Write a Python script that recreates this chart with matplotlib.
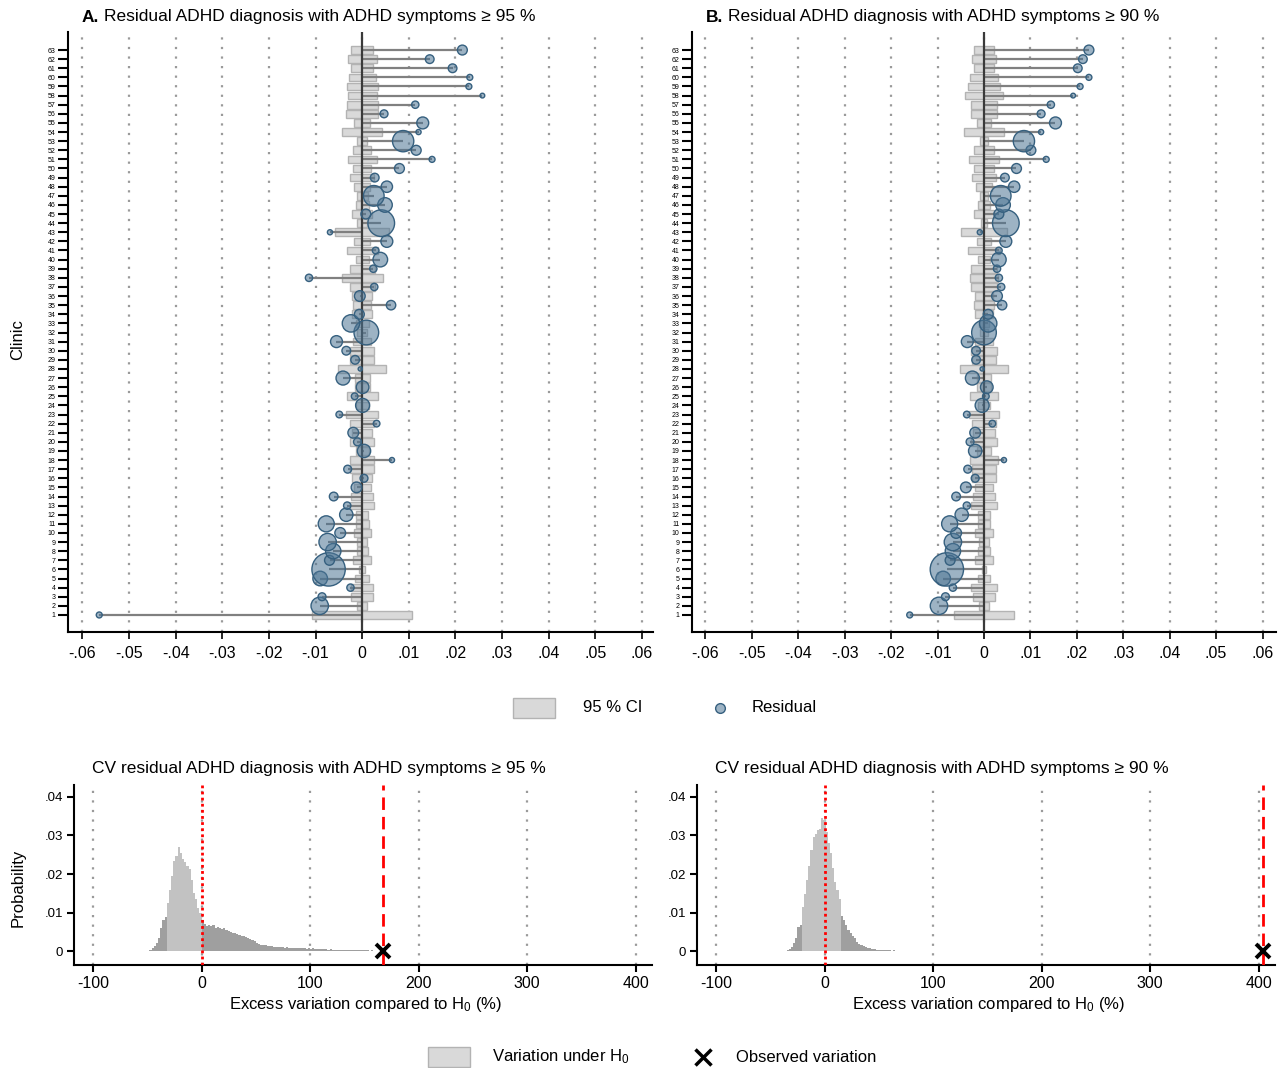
import numpy as np
import matplotlib
matplotlib.use("Agg")
import matplotlib.pyplot as plt
from matplotlib.patches import Rectangle
from matplotlib.lines import Line2D

plt.rcParams['font.family'] = ['Liberation Sans', 'DejaVu Sans']
plt.rcParams['mathtext.fontset'] = 'custom'
plt.rcParams['mathtext.rm'] = 'Liberation Sans'
plt.rcParams['mathtext.it'] = 'Liberation Sans:italic'

# ---------------- DATA ----------------
clinics = list(range(1, 64))

resid_a = [-0.0564, -0.0091, -0.0086, -0.0025, -0.0090, -0.0072, -0.0070, -0.0062, -0.0074, -0.0047,
           -0.0077, -0.0034, -0.0032, -0.0061, -0.0012, 0.0004, -0.0031, 0.0064, 0.0004, -0.0010,
           -0.0019, 0.0031, -0.0049, 0.0001, -0.0016, 0.0001, -0.0041, -0.0004, -0.0015, -0.0034,
           -0.0055, 0.0009, -0.0024, -0.0006, 0.0062, -0.0005, 0.0026, -0.0114, 0.0024, 0.0039,
           0.0029, 0.0053, -0.0069, 0.0041, 0.0008, 0.0049, 0.0025, 0.0053, 0.0027, 0.0080,
           0.0150, 0.0116, 0.0088, 0.0121, 0.0130, 0.0047, 0.0114, 0.0258, 0.0229, 0.0231,
           0.0194, 0.0145, 0.0215]

ci_a = [0.0108, 0.0011, 0.0024, 0.0024, 0.0015, 0.0006, 0.0019, 0.0012, 0.0011, 0.0018,
        0.0014, 0.0013, 0.0026, 0.0023, 0.0018, 0.0022, 0.0026, 0.0025, 0.0014, 0.0026,
        0.0021, 0.0025, 0.0035, 0.0014, 0.0033, 0.0016, 0.0016, 0.0051, 0.0025, 0.0025,
        0.0019, 0.0010, 0.0014, 0.0021, 0.0019, 0.0021, 0.0027, 0.0044, 0.0027, 0.0014,
        0.0033, 0.0017, 0.0058, 0.0010, 0.0021, 0.0014, 0.0012, 0.0017, 0.0026, 0.0020,
        0.0031, 0.0020, 0.0010, 0.0043, 0.0017, 0.0034, 0.0033, 0.0031, 0.0033, 0.0029,
        0.0023, 0.0031, 0.0023]

resid_b = [-0.0160, -0.0097, -0.0083, -0.0067, -0.0088, -0.0080, -0.0073, -0.0067, -0.0067, -0.0060,
           -0.0074, -0.0048, -0.0037, -0.0060, -0.0039, -0.0019, -0.0035, 0.0043, -0.0019, -0.0030,
           -0.0019, 0.0018, -0.0037, -0.0004, 0.0004, 0.0006, -0.0025, -0.0004, -0.0017, -0.0017,
           -0.0036, 0.0000, 0.0009, 0.0009, 0.0039, 0.0028, 0.0037, 0.0032, 0.0028, 0.0032,
           0.0032, 0.0047, -0.0009, 0.0047, 0.0032, 0.0041, 0.0036, 0.0065, 0.0045, 0.0070,
           0.0134, 0.0101, 0.0086, 0.0123, 0.0154, 0.0123, 0.0144, 0.0192, 0.0207, 0.0226,
           0.0202, 0.0213, 0.0226]

ci_b = [0.0064, 0.0011, 0.0024, 0.0028, 0.0014, 0.0005, 0.0020, 0.0012, 0.0011, 0.0019,
        0.0014, 0.0014, 0.0028, 0.0024, 0.0019, 0.0025, 0.0026, 0.0030, 0.0015, 0.0029,
        0.0023, 0.0026, 0.0033, 0.0014, 0.0031, 0.0015, 0.0016, 0.0051, 0.0026, 0.0027,
        0.0019, 0.0008, 0.0011, 0.0020, 0.0021, 0.0019, 0.0027, 0.0031, 0.0027, 0.0014,
        0.0034, 0.0016, 0.0050, 0.0007, 0.0022, 0.0014, 0.0009, 0.0017, 0.0025, 0.0021,
        0.0033, 0.0021, 0.0009, 0.0043, 0.0016, 0.0028, 0.0029, 0.0042, 0.0034, 0.0030,
        0.0022, 0.0026, 0.0022]

clinic_weight = [8, 68, 14, 12, 48, 250, 22, 53, 68, 26,
                 58, 40, 12, 17, 26, 14, 14, 6, 40, 14,
                 26, 10, 10, 44, 10, 36, 44, 4, 17, 17,
                 32, 137, 68, 22, 20, 26, 12, 12, 12, 48,
                 10, 32, 6, 160, 22, 48, 96, 29, 17, 22,
                 8, 22, 102, 6, 32, 14, 12, 5, 8, 8,
                 17, 17, 22]

resid_ticks = [-0.06, -0.05, -0.04, -0.03, -0.02, -0.01, 0, 0.01, 0.02, 0.03, 0.04, 0.05, 0.06]
resid_ticklabels = ['-.06', '-.05', '-.04', '-.03', '-.02', '-.01', '0',
                    '.01', '.02', '.03', '.04', '.05', '.06']

# CV histograms (bin centres, width 2, probability per bin)
cv_a_start = -49
cv_a_prob = [0.0001, 0.0003, 0.0008, 0.0013, 0.0020, 0.0035, 0.0060, 0.0082, 0.0088, 0.0125,
             0.0158, 0.0195, 0.0235, 0.0248, 0.0270, 0.0255, 0.0240, 0.0232, 0.0220, 0.0212,
             0.0185, 0.0150, 0.0135, 0.0112, 0.0098, 0.0082, 0.0070, 0.0066, 0.0068, 0.0064,
             0.0067, 0.0060, 0.0063, 0.0061, 0.0058, 0.0059, 0.0055, 0.0052, 0.0049, 0.0046,
             0.0047, 0.0044, 0.0042, 0.0040, 0.0038, 0.0037, 0.0034, 0.0031, 0.0029, 0.0025,
             0.0021, 0.0019, 0.0017, 0.0016, 0.0016, 0.0014, 0.0013, 0.0012, 0.0011, 0.0011,
             0.0011, 0.0010, 0.0010, 0.0009, 0.0010, 0.0009, 0.0008, 0.0009, 0.0008, 0.0008,
             0.0007, 0.0007, 0.0008, 0.0006, 0.0007, 0.0006, 0.0007, 0.0006, 0.0005, 0.0006,
             0.0005, 0.0005, 0.0005, 0.0004, 0.0005, 0.0004, 0.0004, 0.0004, 0.0003, 0.0004,
             0.0003, 0.0003, 0.0003, 0.0003, 0.0002, 0.0003, 0.0002, 0.0002, 0.0002, 0.0002,
             0.0002, 0.0002, 0.0001, 0.0002, 0.0001, 0.0001, 0.0001, 0.0001, 0.0001, 0.0001,
             0.0001, 0.0001, 0.0001, 0.0000, 0.0001, 0.0001, 0.0000, 0.0001, 0.0000, 0.0001,
             0.0000, 0.0000, 0.0001, 0.0000, 0.0000, 0.0001, 0.0000, 0.0000, 0.0000, 0.0001]
cv_b_start = -36
cv_b_prob = [0.0001, 0.0003, 0.0006, 0.0011, 0.0022, 0.0035, 0.0062, 0.0068, 0.0115, 0.0148,
             0.0185, 0.0220, 0.0262, 0.0295, 0.0305, 0.0315, 0.0318, 0.0345, 0.0340, 0.0310,
             0.0280, 0.0255, 0.0215, 0.0180, 0.0158, 0.0135, 0.0090, 0.0082, 0.0068, 0.0056,
             0.0046, 0.0040, 0.0033, 0.0024, 0.0019, 0.0016, 0.0013, 0.0011, 0.0009, 0.0007,
             0.0006, 0.0005, 0.0004, 0.0004, 0.0003, 0.0003, 0.0002, 0.0002, 0.0002, 0.0001,
             0.0002, 0.0001, 0.0001, 0.0001, 0.0001, 0.0001, 0.0000, 0.0001, 0.0000, 0.0001,
             0.0000, 0.0000, 0.0001, 0.0000, 0.0000, 0.0001, 0.0000, 0.0000, 0.0000, 0.0000,
             0.0000, 0.0000, 0.0001, 0.0000]
cv_a_observed = 167
cv_b_observed = 404
cv_xticks = [-100, 0, 100, 200, 300, 400]
cv_yticks = [0, 0.01, 0.02, 0.03, 0.04]
cv_yticklabels = ['0', '.01', '.02', '.03', '.04']

# ---------------- STYLE ----------------
W, H = 1284, 1068
fig = plt.figure(figsize=(W / 100, H / 100), dpi=100)

box_face = '#d9d9d9'
box_edge = '#b3b3b3'
spike_col = '#808080'
bub_face = (0.30, 0.46, 0.58, 0.55)
bub_edge = '#36607f'
grid_kw = dict(color='#9a9a9a', linestyle=(0, (1, 3.3)), linewidth=1.6)
hist_light = '#c2c2c2'
hist_dark = '#9f9f9f'


def fx(px):
    return px / W


def fy(py):
    return 1 - py / H


def style_axes(ax):
    for s in ['top', 'right']:
        ax.spines[s].set_visible(False)
    for s in ['left', 'bottom']:
        ax.spines[s].set_linewidth(1.5)
        ax.spines[s].set_color('black')


def resid_panel(ax, resid, ci, xlim):
    clin = np.array(clinics)
    r = np.array(resid)
    c = np.array(ci)
    for t in resid_ticks:
        ax.axvline(t, zorder=0, **grid_kw)
    ax.barh(clin, 2 * c, left=-c, height=0.85, color=box_face, edgecolor=box_edge,
            linewidth=1.0, zorder=1)
    ax.hlines(clin, 0, r, color=spike_col, linewidth=1.6, zorder=2)
    ax.axvline(0, color='#3a3a3a', linewidth=1.6, zorder=3)
    ax.scatter(r, clin, s=np.array(clinic_weight) * 2.304, facecolor=bub_face,
               edgecolor=bub_edge, linewidth=1.0, zorder=4)
    ax.set_xlim(*xlim)
    ax.set_ylim(-0.87, 64.98)
    ax.set_xticks(resid_ticks)
    ax.set_xticklabels(resid_ticklabels, fontsize=11.5)
    ax.set_yticks(clinics)
    ax.set_yticklabels([str(c_) for c_ in clinics], fontsize=5)
    ax.tick_params(axis='y', length=7, width=1.5, pad=2)
    ax.tick_params(axis='x', length=5, width=1.2, pad=5)
    style_axes(ax)


def cv_panel(ax, start, prob, observed, light_range):
    centers = start + 2 * np.arange(len(prob))
    p = np.array(prob)
    cols = [hist_light if light_range[0] <= c <= light_range[1] else hist_dark for c in centers]
    for t in cv_xticks:
        ax.axvline(t, zorder=0, **grid_kw)
    ax.bar(centers, p, width=2.0, color=cols, linewidth=0, zorder=1)
    ax.axvline(0, color='red', linestyle=(0, (1, 1.2)), linewidth=2, zorder=3)
    ax.axvline(observed, color='red', linestyle=(0, (4.5, 2.5)), linewidth=2, zorder=3)
    ax.plot([observed], [0], marker='x', color='black', markersize=10, mew=2.8, zorder=5,
            clip_on=False)
    ax.set_xlim(-117.5, 415)
    ax.set_ylim(-0.0036, 0.0431)
    ax.set_xticks(cv_xticks)
    ax.set_xticklabels([str(t) for t in cv_xticks], fontsize=11.5)
    ax.set_yticks(cv_yticks)
    ax.set_yticklabels(cv_yticklabels, fontsize=9.5)
    ax.tick_params(axis='both', length=5, width=1.5, pad=3)
    style_axes(ax)


axA = fig.add_axes([fx(68), fy(632), (653 - 68) / W, 600 / H])
axB = fig.add_axes([fx(692), fy(632), (1276 - 692) / W, 600 / H])
axC = fig.add_axes([fx(74), fy(965), (652 - 74) / W, 180 / H])
axD = fig.add_axes([fx(697), fy(965), (1275 - 697) / W, 180 / H])

resid_panel(axA, resid_a, ci_a, (-0.0631, 0.0624))
resid_panel(axB, resid_b, ci_b, (-0.0629, 0.0629))
cv_panel(axC, cv_a_start, cv_a_prob, cv_a_observed, (-31, -1))
cv_panel(axD, cv_b_start, cv_b_prob, cv_b_observed, (-21, 15))

# titles
tfs = 12.5
fig.text(fx(82), fy(17), 'A.', fontsize=tfs, fontweight='bold', va='center', ha='left')
fig.text(fx(104), fy(17), 'Residual ADHD diagnosis with ADHD symptoms ≥ 95 %', fontsize=tfs,
         va='center', ha='left')
fig.text(fx(706), fy(17), 'B.', fontsize=tfs, fontweight='bold', va='center', ha='left')
fig.text(fx(728), fy(17), 'Residual ADHD diagnosis with ADHD symptoms ≥ 90 %', fontsize=tfs,
         va='center', ha='left')
fig.text(fx(92), fy(768), 'CV residual ADHD diagnosis with ADHD symptoms ≥ 95 %', fontsize=tfs,
         va='center', ha='left')
fig.text(fx(715), fy(768), 'CV residual ADHD diagnosis with ADHD symptoms ≥ 90 %', fontsize=tfs,
         va='center', ha='left')

fig.text(fx(18), fy(340), 'Clinic', fontsize=12, rotation=90, va='center', ha='center')
fig.text(fx(18), fy(888), 'Probability', fontsize=12, rotation=90, va='center', ha='center')
xl = r'Excess variation compared to H$_{\mathrm{0}}$ (%)'
fig.text(fx(366), fy(1004), xl, fontsize=12, va='center', ha='center')
fig.text(fx(989), fy(1004), xl, fontsize=12, va='center', ha='center')

# legend 1
fig.add_artist(Rectangle((fx(513), fy(718)), 42 / W, 20 / H, transform=fig.transFigure,
                         facecolor=box_face, edgecolor=box_edge, linewidth=1.0))
fig.text(fx(583), fy(708), '95 % CI', fontsize=12, va='center', ha='left')
fig.add_artist(Line2D([fx(720)], [fy(708)], transform=fig.transFigure, marker='o',
                      markersize=7, markerfacecolor=bub_face, markeredgecolor=bub_edge,
                      markeredgewidth=1.0, linestyle='none'))
fig.text(fx(752), fy(708), 'Residual', fontsize=12, va='center', ha='left')

# legend 2
fig.add_artist(Rectangle((fx(428), fy(1067)), 42 / W, 20 / H, transform=fig.transFigure,
                         facecolor=box_face, edgecolor=box_edge, linewidth=1.0))
fig.text(fx(492), fy(1057), r'Variation under H$_{\mathrm{0}}$', fontsize=12, va='center', ha='left')
fig.add_artist(Line2D([fx(703)], [fy(1057)], transform=fig.transFigure, marker='x',
                      markersize=11, color='black', markeredgewidth=2.5, linestyle='none'))
fig.text(fx(736), fy(1057), 'Observed variation', fontsize=12, va='center', ha='left')

fig.savefig('out.png', dpi=100, facecolor='white')
